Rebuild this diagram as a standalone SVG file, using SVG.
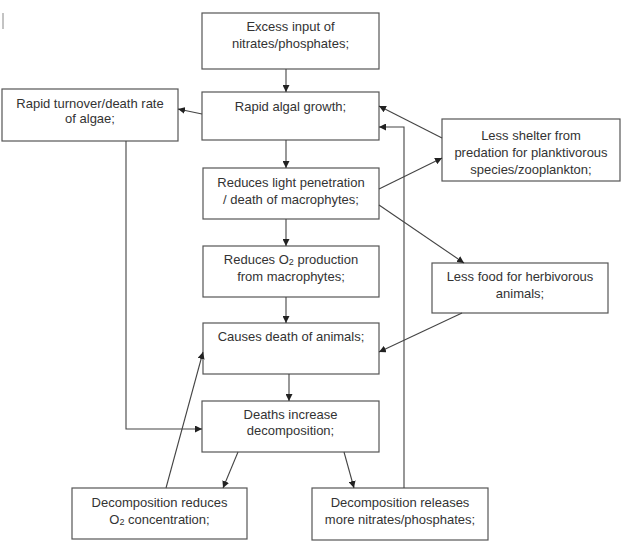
<svg xmlns="http://www.w3.org/2000/svg" width="625" height="557" viewBox="0 0 625 557">
<defs>
<marker id="ah" viewBox="0 0 10 10" refX="10" refY="5" markerWidth="7" markerHeight="7" markerUnits="userSpaceOnUse" orient="auto">
<path d="M0,0 L10,5 L0,10 z" fill="#222"/>
</marker>
<style>
.box{fill:#fff;stroke:#555;stroke-width:1.2}
.t{font-family:"Liberation Sans",Arial,sans-serif;font-size:13px;fill:#333;text-anchor:middle}
.c{fill:none;stroke:#444;stroke-width:1.1}
.a{marker-end:url(#ah)}
</style>
</defs>
<rect width="625" height="557" fill="#fff"/>
<line x1="3" y1="13" x2="3" y2="29" stroke="#888" stroke-width="1"/>

<g id="excess"><rect class="box" x="202" y="13" width="177" height="56"/>
<text class="t" x="290.5" y="31">Excess input of</text><text class="t" x="290.5" y="48">nitrates/phosphates;</text></g>

<g id="algal"><rect class="box" x="202" y="92" width="177" height="48"/>
<text class="t" x="290.5" y="111">Rapid algal growth;</text></g>

<g id="turnover"><rect class="box" x="2" y="89" width="176" height="52"/>
<text class="t" x="90" y="108">Rapid turnover/death rate</text><text class="t" x="90" y="123">of algae;</text></g>

<g id="light"><rect class="box" x="203" y="168" width="176" height="51"/>
<text class="t" x="291" y="187">Reduces light penetration</text><text class="t" x="291" y="204">/ death of macrophytes;</text></g>

<g id="o2prod"><rect class="box" x="203" y="246" width="176" height="51"/>
<text class="t" x="291" y="264">Reduces O<tspan font-size="9" dy="1">2</tspan><tspan dy="-1"> production</tspan></text><text class="t" x="291" y="281">from macrophytes;</text></g>

<g id="shelter"><rect class="box" x="442" y="119" width="178" height="62"/>
<text class="t" x="531" y="140">Less shelter from</text><text class="t" x="531" y="157">predation for planktivorous</text><text class="t" x="531" y="174">species/zooplankton;</text></g>

<g id="food"><rect class="box" x="432" y="263" width="176" height="50"/>
<text class="t" x="520" y="281">Less food for herbivorous</text><text class="t" x="520" y="298">animals;</text></g>

<g id="causes"><rect class="box" x="203" y="323" width="176" height="51"/>
<text class="t" x="291" y="341">Causes death of animals;</text></g>

<g id="deaths"><rect class="box" x="202" y="401" width="177" height="51"/>
<text class="t" x="290.5" y="419">Deaths increase</text><text class="t" x="290.5" y="435">decomposition;</text></g>

<g id="reduces"><rect class="box" x="72" y="488" width="175" height="51"/>
<text class="t" x="159.5" y="507">Decomposition reduces</text><text class="t" x="159.5" y="524">O<tspan font-size="9" dy="1">2</tspan><tspan dy="-1"> concentration;</tspan></text></g>

<g id="releases"><rect class="box" x="312" y="488" width="176" height="52"/>
<text class="t" x="400" y="507">Decomposition releases</text><text class="t" x="400" y="524">more nitrates/phosphates;</text></g>

<g id="connectors">
<line class="c a" x1="286" y1="69" x2="286" y2="92"/>
<line class="c a" x1="202" y1="114" x2="178" y2="109"/>
<polyline class="c a" points="126,141 126,429 202,429"/>
<line class="c a" x1="286" y1="140" x2="286" y2="168"/>
<line class="c a" x1="286" y1="219" x2="286" y2="246"/>
<line class="c a" x1="442" y1="138" x2="379" y2="106"/>
<line class="c a" x1="379" y1="189" x2="442" y2="158"/>
<polyline class="c a" points="404,488 404,127 379,127"/>
<line class="c a" x1="379" y1="205" x2="464" y2="263"/>
<line class="c a" x1="462" y1="313" x2="379" y2="352"/>
<line class="c a" x1="286" y1="297" x2="286" y2="323"/>
<line class="c a" x1="289" y1="374" x2="289" y2="401"/>
<line class="c a" x1="238" y1="452" x2="223" y2="488"/>
<line class="c a" x1="166" y1="488" x2="203" y2="352"/>
<line class="c a" x1="344" y1="452" x2="354" y2="488"/>
</g>
</svg>
